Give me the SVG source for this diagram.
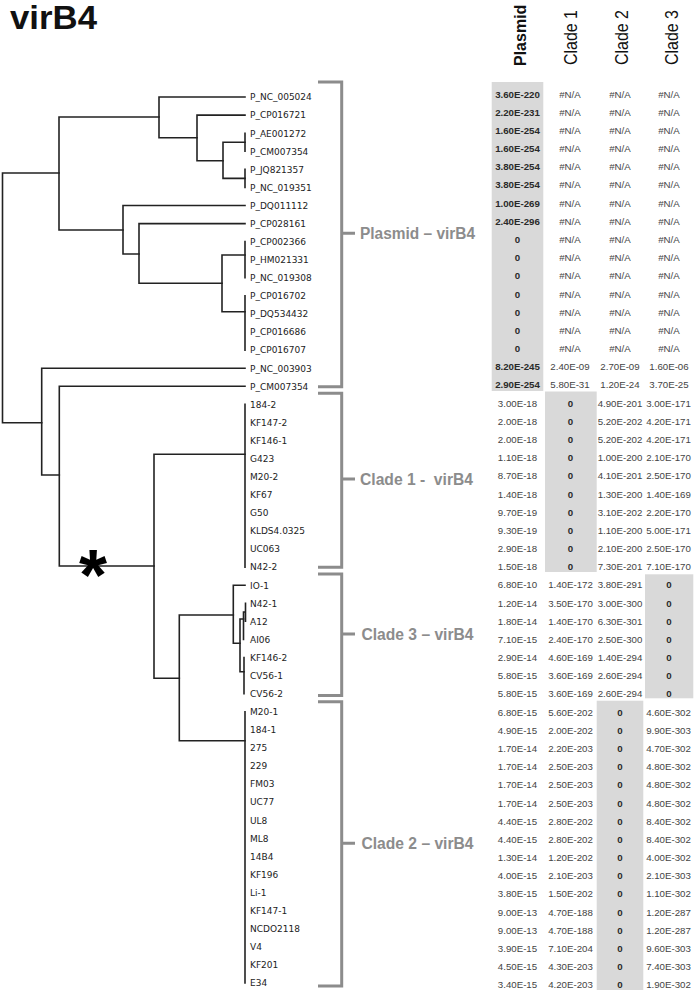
<svg xmlns="http://www.w3.org/2000/svg" width="696" height="992" viewBox="0 0 696 992">
<style>
.t{stroke:#222;stroke-width:1.6;fill:none;stroke-linecap:square}
.br{stroke:#8c8c8c;stroke-width:3;fill:none}
.lf{font-family:"DejaVu Sans",sans-serif;font-size:9px;fill:#222}
.bl{font-family:"Liberation Sans",Arial,sans-serif;font-weight:bold;font-size:16px;fill:#8c8c8c;white-space:pre}
.hd{font-family:"Liberation Sans",Arial,sans-serif;font-size:18px;fill:#111}
.hp{font-family:"Liberation Sans",Arial,sans-serif;font-size:16px;font-weight:bold;fill:#111}
.v{font-family:"Liberation Sans",Arial,sans-serif;font-size:9.7px;fill:#444;text-anchor:middle}
.b{font-weight:bold;fill:#2a2a2a}
.hl{fill:#d9d9d9}
</style>
<rect width="696" height="992" fill="#fff"/>
<text x="10" y="28.5" font-family="Liberation Sans,Arial,sans-serif" font-weight="bold" font-size="33" fill="#111" textLength="87" lengthAdjust="spacingAndGlyphs">virB4</text>

<g id="connectors">
<path class="t" d="M2.5,173V422.7M2.5,173H59M2.5,422.7H41.7"/>
<path class="t" d="M59,117V230M59,117H159M59,230H123"/>
<path class="t" d="M159,97V137.7M159,97H245M159,137.7H197"/>
<path class="t" d="M197,115.1V160.7M197,115.1H245M197,160.7H223"/>
<path class="t" d="M223,142.2V178.4M223,142.2H245M223,178.4H245"/>
<path class="t" d="M245,133.2V151.2M245,169.3V187.4"/>
<path class="t" d="M123,205.5V254M123,205.5H245M123,254H139"/>
<path class="t" d="M139,223.6V283.3M139,223.6H245M139,283.3H222"/>
<path class="t" d="M222,255V311.7M222,255H245M222,311.7H245"/>
<path class="t" d="M245,241.6V277.8M245,295.9V350.1"/>
<path class="t" d="M41.7,368.2V475M41.7,368.2H245M41.7,475H59.3"/>
<path class="t" d="M59.3,386.3V566M59.3,386.3H245M59.3,566H154"/>
<path class="t" d="M154,454.3V678.3M154,454.3H245M154,678.3H179.3"/>
<path class="t" d="M245,404.4V567.1"/>
<path class="t" d="M179.3,615V740.7M179.3,615H233.3M179.3,740.7H245"/>
<path class="t" d="M245,711.7V982.9"/>
<path class="t" d="M233.3,585.2V643.3M233.3,585.2H245M233.3,643.3H240"/>
<path class="t" d="M240,619V671.7M240,619H243.5M240,671.7H244"/>
<path class="t" d="M243.5,612V639.4M243.5,612H245.5M245.5,603.2V621.3"/>
<path class="t" d="M244,657.5V693.6"/>
</g>

<text x="93" y="600" font-family="Liberation Sans,Arial,sans-serif" font-weight="bold" font-size="72" fill="#000" text-anchor="middle">*</text>

<g id="leaves">
<g id="n0"><text class="lf" x="250" y="100.3">P_NC_005024</text></g>
<g id="n1"><text class="lf" x="250" y="118.4">P_CP016721</text></g>
<g id="n2"><text class="lf" x="250" y="136.5">P_AE001272</text></g>
<g id="n3"><text class="lf" x="250" y="154.5">P_CM007354</text></g>
<g id="n4"><text class="lf" x="250" y="172.6">P_JQ821357</text></g>
<g id="n5"><text class="lf" x="250" y="190.7">P_NC_019351</text></g>
<g id="n6"><text class="lf" x="250" y="208.8">P_DQ011112</text></g>
<g id="n7"><text class="lf" x="250" y="226.9">P_CP028161</text></g>
<g id="n8"><text class="lf" x="250" y="244.9">P_CP002366</text></g>
<g id="n9"><text class="lf" x="250" y="263.0">P_HM021331</text></g>
<g id="n10"><text class="lf" x="250" y="281.1">P_NC_019308</text></g>
<g id="n11"><text class="lf" x="250" y="299.2">P_CP016702</text></g>
<g id="n12"><text class="lf" x="250" y="317.3">P_DQ534432</text></g>
<g id="n13"><text class="lf" x="250" y="335.3">P_CP016686</text></g>
<g id="n14"><text class="lf" x="250" y="353.4">P_CP016707</text></g>
<g id="n15"><text class="lf" x="250" y="371.5">P_NC_003903</text></g>
<g id="n16"><text class="lf" x="250" y="389.6">P_CM007354</text></g>
<g id="n17"><text class="lf" x="250" y="407.7">184-2</text></g>
<g id="n18"><text class="lf" x="250" y="425.7">KF147-2</text></g>
<g id="n19"><text class="lf" x="250" y="443.8">KF146-1</text></g>
<g id="n20"><text class="lf" x="250" y="461.9">G423</text></g>
<g id="n21"><text class="lf" x="250" y="480.0">M20-2</text></g>
<g id="n22"><text class="lf" x="250" y="498.1">KF67</text></g>
<g id="n23"><text class="lf" x="250" y="516.1">G50</text></g>
<g id="n24"><text class="lf" x="250" y="534.2">KLDS4.0325</text></g>
<g id="n25"><text class="lf" x="250" y="552.3">UC063</text></g>
<g id="n26"><text class="lf" x="250" y="570.4">N42-2</text></g>
<g id="n27"><text class="lf" x="250" y="588.5">IO-1</text></g>
<g id="n28"><text class="lf" x="250" y="606.5">N42-1</text></g>
<g id="n29"><text class="lf" x="250" y="624.6">A12</text></g>
<g id="n30"><text class="lf" x="250" y="642.7">AI06</text></g>
<g id="n31"><text class="lf" x="250" y="660.8">KF146-2</text></g>
<g id="n32"><text class="lf" x="250" y="678.9">CV56-1</text></g>
<g id="n33"><text class="lf" x="250" y="696.9">CV56-2</text></g>
<g id="n34"><text class="lf" x="250" y="715.0">M20-1</text></g>
<g id="n35"><text class="lf" x="250" y="733.1">184-1</text></g>
<g id="n36"><text class="lf" x="250" y="751.2">275</text></g>
<g id="n37"><text class="lf" x="250" y="769.3">229</text></g>
<g id="n38"><text class="lf" x="250" y="787.3">FM03</text></g>
<g id="n39"><text class="lf" x="250" y="805.4">UC77</text></g>
<g id="n40"><text class="lf" x="250" y="823.5">UL8</text></g>
<g id="n41"><text class="lf" x="250" y="841.6">ML8</text></g>
<g id="n42"><text class="lf" x="250" y="859.7">14B4</text></g>
<g id="n43"><text class="lf" x="250" y="877.7">KF196</text></g>
<g id="n44"><text class="lf" x="250" y="895.8">Li-1</text></g>
<g id="n45"><text class="lf" x="250" y="913.9">KF147-1</text></g>
<g id="n46"><text class="lf" x="250" y="932.0">NCDO2118</text></g>
<g id="n47"><text class="lf" x="250" y="950.1">V4</text></g>
<g id="n48"><text class="lf" x="250" y="968.1">KF201</text></g>
<g id="n49"><text class="lf" x="250" y="986.2">E34</text></g>
</g>

<g id="brackets">
<g id="plasmid-bracket"><path class="br" d="M318,82H341.7V386.7H318M341.7,233.3H355"/><text class="bl" x="360" y="239" textLength="115" lengthAdjust="spacingAndGlyphs">Plasmid – virB4</text></g>
<g id="clade1-bracket"><path class="br" d="M318,393.3H341.7V567.3H318M341.7,479H355"/><text class="bl" x="360" y="484.7" textLength="113" lengthAdjust="spacingAndGlyphs">Clade 1 -  virB4</text></g>
<g id="clade3-bracket"><path class="br" d="M318,574H341.7V695.5H318M341.7,634H355"/><text class="bl" x="361.5" y="639.7" textLength="112" lengthAdjust="spacingAndGlyphs">Clade 3 – virB4</text></g>
<g id="clade2-bracket"><path class="br" d="M318,701.7H341.7V986H318M341.7,843.3H355"/><text class="bl" x="361.5" y="849" textLength="112" lengthAdjust="spacingAndGlyphs">Clade 2 – virB4</text></g>
</g>

<g id="table">
<rect class="hl" x="491.7" y="82" width="51.6" height="309"/>
<rect class="hl" x="545" y="391.5" width="51.7" height="180.5"/>
<rect class="hl" x="645" y="574.3" width="48.3" height="124"/>
<rect class="hl" x="596.7" y="700.7" width="46.6" height="289.3"/>
<g id="headers">
<text class="hp" transform="translate(526,66) rotate(-90)">Plasmid</text>
<text class="hd" transform="translate(577,65) rotate(-90)" textLength="55" lengthAdjust="spacingAndGlyphs">Clade 1</text>
<text class="hd" transform="translate(628,65) rotate(-90)" textLength="55" lengthAdjust="spacingAndGlyphs">Clade 2</text>
<text class="hd" transform="translate(678,65) rotate(-90)" textLength="55" lengthAdjust="spacingAndGlyphs">Clade 3</text>
</g>
<g id="r0"><text class="v b" x="517.5" y="97.5">3.60E-220</text><text class="v" x="570" y="97.5">#N/A</text><text class="v" x="620" y="97.5">#N/A</text><text class="v" x="669" y="97.5">#N/A</text></g>
<g id="r1"><text class="v b" x="517.5" y="115.7">2.20E-231</text><text class="v" x="570" y="115.7">#N/A</text><text class="v" x="620" y="115.7">#N/A</text><text class="v" x="669" y="115.7">#N/A</text></g>
<g id="r2"><text class="v b" x="517.5" y="133.9">1.60E-254</text><text class="v" x="570" y="133.9">#N/A</text><text class="v" x="620" y="133.9">#N/A</text><text class="v" x="669" y="133.9">#N/A</text></g>
<g id="r3"><text class="v b" x="517.5" y="152.0">1.60E-254</text><text class="v" x="570" y="152.0">#N/A</text><text class="v" x="620" y="152.0">#N/A</text><text class="v" x="669" y="152.0">#N/A</text></g>
<g id="r4"><text class="v b" x="517.5" y="170.2">3.80E-254</text><text class="v" x="570" y="170.2">#N/A</text><text class="v" x="620" y="170.2">#N/A</text><text class="v" x="669" y="170.2">#N/A</text></g>
<g id="r5"><text class="v b" x="517.5" y="188.4">3.80E-254</text><text class="v" x="570" y="188.4">#N/A</text><text class="v" x="620" y="188.4">#N/A</text><text class="v" x="669" y="188.4">#N/A</text></g>
<g id="r6"><text class="v b" x="517.5" y="206.6">1.00E-269</text><text class="v" x="570" y="206.6">#N/A</text><text class="v" x="620" y="206.6">#N/A</text><text class="v" x="669" y="206.6">#N/A</text></g>
<g id="r7"><text class="v b" x="517.5" y="224.8">2.40E-296</text><text class="v" x="570" y="224.8">#N/A</text><text class="v" x="620" y="224.8">#N/A</text><text class="v" x="669" y="224.8">#N/A</text></g>
<g id="r8"><text class="v b" x="517.5" y="242.9">0</text><text class="v" x="570" y="242.9">#N/A</text><text class="v" x="620" y="242.9">#N/A</text><text class="v" x="669" y="242.9">#N/A</text></g>
<g id="r9"><text class="v b" x="517.5" y="261.1">0</text><text class="v" x="570" y="261.1">#N/A</text><text class="v" x="620" y="261.1">#N/A</text><text class="v" x="669" y="261.1">#N/A</text></g>
<g id="r10"><text class="v b" x="517.5" y="279.3">0</text><text class="v" x="570" y="279.3">#N/A</text><text class="v" x="620" y="279.3">#N/A</text><text class="v" x="669" y="279.3">#N/A</text></g>
<g id="r11"><text class="v b" x="517.5" y="297.5">0</text><text class="v" x="570" y="297.5">#N/A</text><text class="v" x="620" y="297.5">#N/A</text><text class="v" x="669" y="297.5">#N/A</text></g>
<g id="r12"><text class="v b" x="517.5" y="315.7">0</text><text class="v" x="570" y="315.7">#N/A</text><text class="v" x="620" y="315.7">#N/A</text><text class="v" x="669" y="315.7">#N/A</text></g>
<g id="r13"><text class="v b" x="517.5" y="333.8">0</text><text class="v" x="570" y="333.8">#N/A</text><text class="v" x="620" y="333.8">#N/A</text><text class="v" x="669" y="333.8">#N/A</text></g>
<g id="r14"><text class="v b" x="517.5" y="352.0">0</text><text class="v" x="570" y="352.0">#N/A</text><text class="v" x="620" y="352.0">#N/A</text><text class="v" x="669" y="352.0">#N/A</text></g>
<g id="r15"><text class="v b" x="517.5" y="370.2">8.20E-245</text><text class="v" x="570" y="370.2">2.40E-09</text><text class="v" x="620" y="370.2">2.70E-09</text><text class="v" x="669" y="370.2">1.60E-06</text></g>
<g id="r16"><text class="v b" x="517.5" y="388.4">2.90E-254</text><text class="v" x="570" y="388.4">5.80E-31</text><text class="v" x="620" y="388.4">1.20E-24</text><text class="v" x="669" y="388.4">3.70E-25</text></g>
<g id="r17"><text class="v" x="517.5" y="406.6">3.00E-18</text><text class="v b" x="570.5" y="406.6">0</text><text class="v" x="620" y="406.6">4.90E-201</text><text class="v" x="668.5" y="406.6">3.00E-171</text></g>
<g id="r18"><text class="v" x="517.5" y="424.7">2.00E-18</text><text class="v b" x="570.5" y="424.7">0</text><text class="v" x="620" y="424.7">5.20E-202</text><text class="v" x="668.5" y="424.7">4.20E-171</text></g>
<g id="r19"><text class="v" x="517.5" y="442.9">2.00E-18</text><text class="v b" x="570.5" y="442.9">0</text><text class="v" x="620" y="442.9">5.20E-202</text><text class="v" x="668.5" y="442.9">4.20E-171</text></g>
<g id="r20"><text class="v" x="517.5" y="461.1">1.10E-18</text><text class="v b" x="570.5" y="461.1">0</text><text class="v" x="620" y="461.1">1.00E-200</text><text class="v" x="668.5" y="461.1">2.10E-170</text></g>
<g id="r21"><text class="v" x="517.5" y="479.3">8.70E-18</text><text class="v b" x="570.5" y="479.3">0</text><text class="v" x="620" y="479.3">4.10E-201</text><text class="v" x="668.5" y="479.3">2.50E-170</text></g>
<g id="r22"><text class="v" x="517.5" y="497.5">1.40E-18</text><text class="v b" x="570.5" y="497.5">0</text><text class="v" x="620" y="497.5">1.30E-200</text><text class="v" x="668.5" y="497.5">1.40E-169</text></g>
<g id="r23"><text class="v" x="517.5" y="515.6">9.70E-19</text><text class="v b" x="570.5" y="515.6">0</text><text class="v" x="620" y="515.6">3.10E-202</text><text class="v" x="668.5" y="515.6">2.20E-170</text></g>
<g id="r24"><text class="v" x="517.5" y="533.8">9.30E-19</text><text class="v b" x="570.5" y="533.8">0</text><text class="v" x="620" y="533.8">1.10E-200</text><text class="v" x="668.5" y="533.8">5.00E-171</text></g>
<g id="r25"><text class="v" x="517.5" y="552.0">2.90E-18</text><text class="v b" x="570.5" y="552.0">0</text><text class="v" x="620" y="552.0">2.10E-200</text><text class="v" x="668.5" y="552.0">2.50E-170</text></g>
<g id="r26"><text class="v" x="517.5" y="570.2">1.50E-18</text><text class="v b" x="570.5" y="570.2">0</text><text class="v" x="620" y="570.2">7.30E-201</text><text class="v" x="668.5" y="570.2">7.10E-170</text></g>
<g id="r27"><text class="v" x="517.5" y="588.4">6.80E-10</text><text class="v" x="570.5" y="588.4">1.40E-172</text><text class="v" x="620" y="588.4">3.80E-291</text><text class="v b" x="669" y="588.4">0</text></g>
<g id="r28"><text class="v" x="517.5" y="606.5">1.20E-14</text><text class="v" x="570.5" y="606.5">3.50E-170</text><text class="v" x="620" y="606.5">3.00E-300</text><text class="v b" x="669" y="606.5">0</text></g>
<g id="r29"><text class="v" x="517.5" y="624.7">1.80E-14</text><text class="v" x="570.5" y="624.7">1.40E-170</text><text class="v" x="620" y="624.7">6.30E-301</text><text class="v b" x="669" y="624.7">0</text></g>
<g id="r30"><text class="v" x="517.5" y="642.9">7.10E-15</text><text class="v" x="570.5" y="642.9">2.40E-170</text><text class="v" x="620" y="642.9">2.50E-300</text><text class="v b" x="669" y="642.9">0</text></g>
<g id="r31"><text class="v" x="517.5" y="661.1">2.90E-14</text><text class="v" x="570.5" y="661.1">4.60E-169</text><text class="v" x="620" y="661.1">1.40E-294</text><text class="v b" x="669" y="661.1">0</text></g>
<g id="r32"><text class="v" x="517.5" y="679.3">5.80E-15</text><text class="v" x="570.5" y="679.3">3.60E-169</text><text class="v" x="620" y="679.3">2.60E-294</text><text class="v b" x="669" y="679.3">0</text></g>
<g id="r33"><text class="v" x="517.5" y="697.4">5.80E-15</text><text class="v" x="570.5" y="697.4">3.60E-169</text><text class="v" x="620" y="697.4">2.60E-294</text><text class="v b" x="669" y="697.4">0</text></g>
<g id="r34"><text class="v" x="517.5" y="715.6">6.80E-15</text><text class="v" x="570.5" y="715.6">5.60E-202</text><text class="v b" x="620" y="715.6">0</text><text class="v" x="668.5" y="715.6">4.60E-302</text></g>
<g id="r35"><text class="v" x="517.5" y="733.8">4.90E-15</text><text class="v" x="570.5" y="733.8">2.00E-202</text><text class="v b" x="620" y="733.8">0</text><text class="v" x="668.5" y="733.8">9.90E-303</text></g>
<g id="r36"><text class="v" x="517.5" y="752.0">1.70E-14</text><text class="v" x="570.5" y="752.0">2.20E-203</text><text class="v b" x="620" y="752.0">0</text><text class="v" x="668.5" y="752.0">4.70E-302</text></g>
<g id="r37"><text class="v" x="517.5" y="770.2">1.70E-14</text><text class="v" x="570.5" y="770.2">2.50E-203</text><text class="v b" x="620" y="770.2">0</text><text class="v" x="668.5" y="770.2">4.80E-302</text></g>
<g id="r38"><text class="v" x="517.5" y="788.3">1.70E-14</text><text class="v" x="570.5" y="788.3">2.50E-203</text><text class="v b" x="620" y="788.3">0</text><text class="v" x="668.5" y="788.3">4.80E-302</text></g>
<g id="r39"><text class="v" x="517.5" y="806.5">1.70E-14</text><text class="v" x="570.5" y="806.5">2.50E-203</text><text class="v b" x="620" y="806.5">0</text><text class="v" x="668.5" y="806.5">4.80E-302</text></g>
<g id="r40"><text class="v" x="517.5" y="824.7">4.40E-15</text><text class="v" x="570.5" y="824.7">2.80E-202</text><text class="v b" x="620" y="824.7">0</text><text class="v" x="668.5" y="824.7">8.40E-302</text></g>
<g id="r41"><text class="v" x="517.5" y="842.9">4.40E-15</text><text class="v" x="570.5" y="842.9">2.80E-202</text><text class="v b" x="620" y="842.9">0</text><text class="v" x="668.5" y="842.9">8.40E-302</text></g>
<g id="r42"><text class="v" x="517.5" y="861.1">1.30E-14</text><text class="v" x="570.5" y="861.1">1.20E-202</text><text class="v b" x="620" y="861.1">0</text><text class="v" x="668.5" y="861.1">4.00E-302</text></g>
<g id="r43"><text class="v" x="517.5" y="879.2">4.00E-15</text><text class="v" x="570.5" y="879.2">2.10E-203</text><text class="v b" x="620" y="879.2">0</text><text class="v" x="668.5" y="879.2">2.10E-303</text></g>
<g id="r44"><text class="v" x="517.5" y="897.4">3.80E-15</text><text class="v" x="570.5" y="897.4">1.50E-202</text><text class="v b" x="620" y="897.4">0</text><text class="v" x="668.5" y="897.4">1.10E-302</text></g>
<g id="r45"><text class="v" x="517.5" y="915.6">9.00E-13</text><text class="v" x="570.5" y="915.6">4.70E-188</text><text class="v b" x="620" y="915.6">0</text><text class="v" x="668.5" y="915.6">1.20E-287</text></g>
<g id="r46"><text class="v" x="517.5" y="933.8">9.00E-13</text><text class="v" x="570.5" y="933.8">4.70E-188</text><text class="v b" x="620" y="933.8">0</text><text class="v" x="668.5" y="933.8">1.20E-287</text></g>
<g id="r47"><text class="v" x="517.5" y="952.0">3.90E-15</text><text class="v" x="570.5" y="952.0">7.10E-204</text><text class="v b" x="620" y="952.0">0</text><text class="v" x="668.5" y="952.0">9.60E-303</text></g>
<g id="r48"><text class="v" x="517.5" y="970.1">4.50E-15</text><text class="v" x="570.5" y="970.1">4.30E-203</text><text class="v b" x="620" y="970.1">0</text><text class="v" x="668.5" y="970.1">7.40E-303</text></g>
<g id="r49"><text class="v" x="517.5" y="988.3">3.40E-15</text><text class="v" x="570.5" y="988.3">4.20E-203</text><text class="v b" x="620" y="988.3">0</text><text class="v" x="668.5" y="988.3">1.90E-302</text></g>
</g>
</svg>
